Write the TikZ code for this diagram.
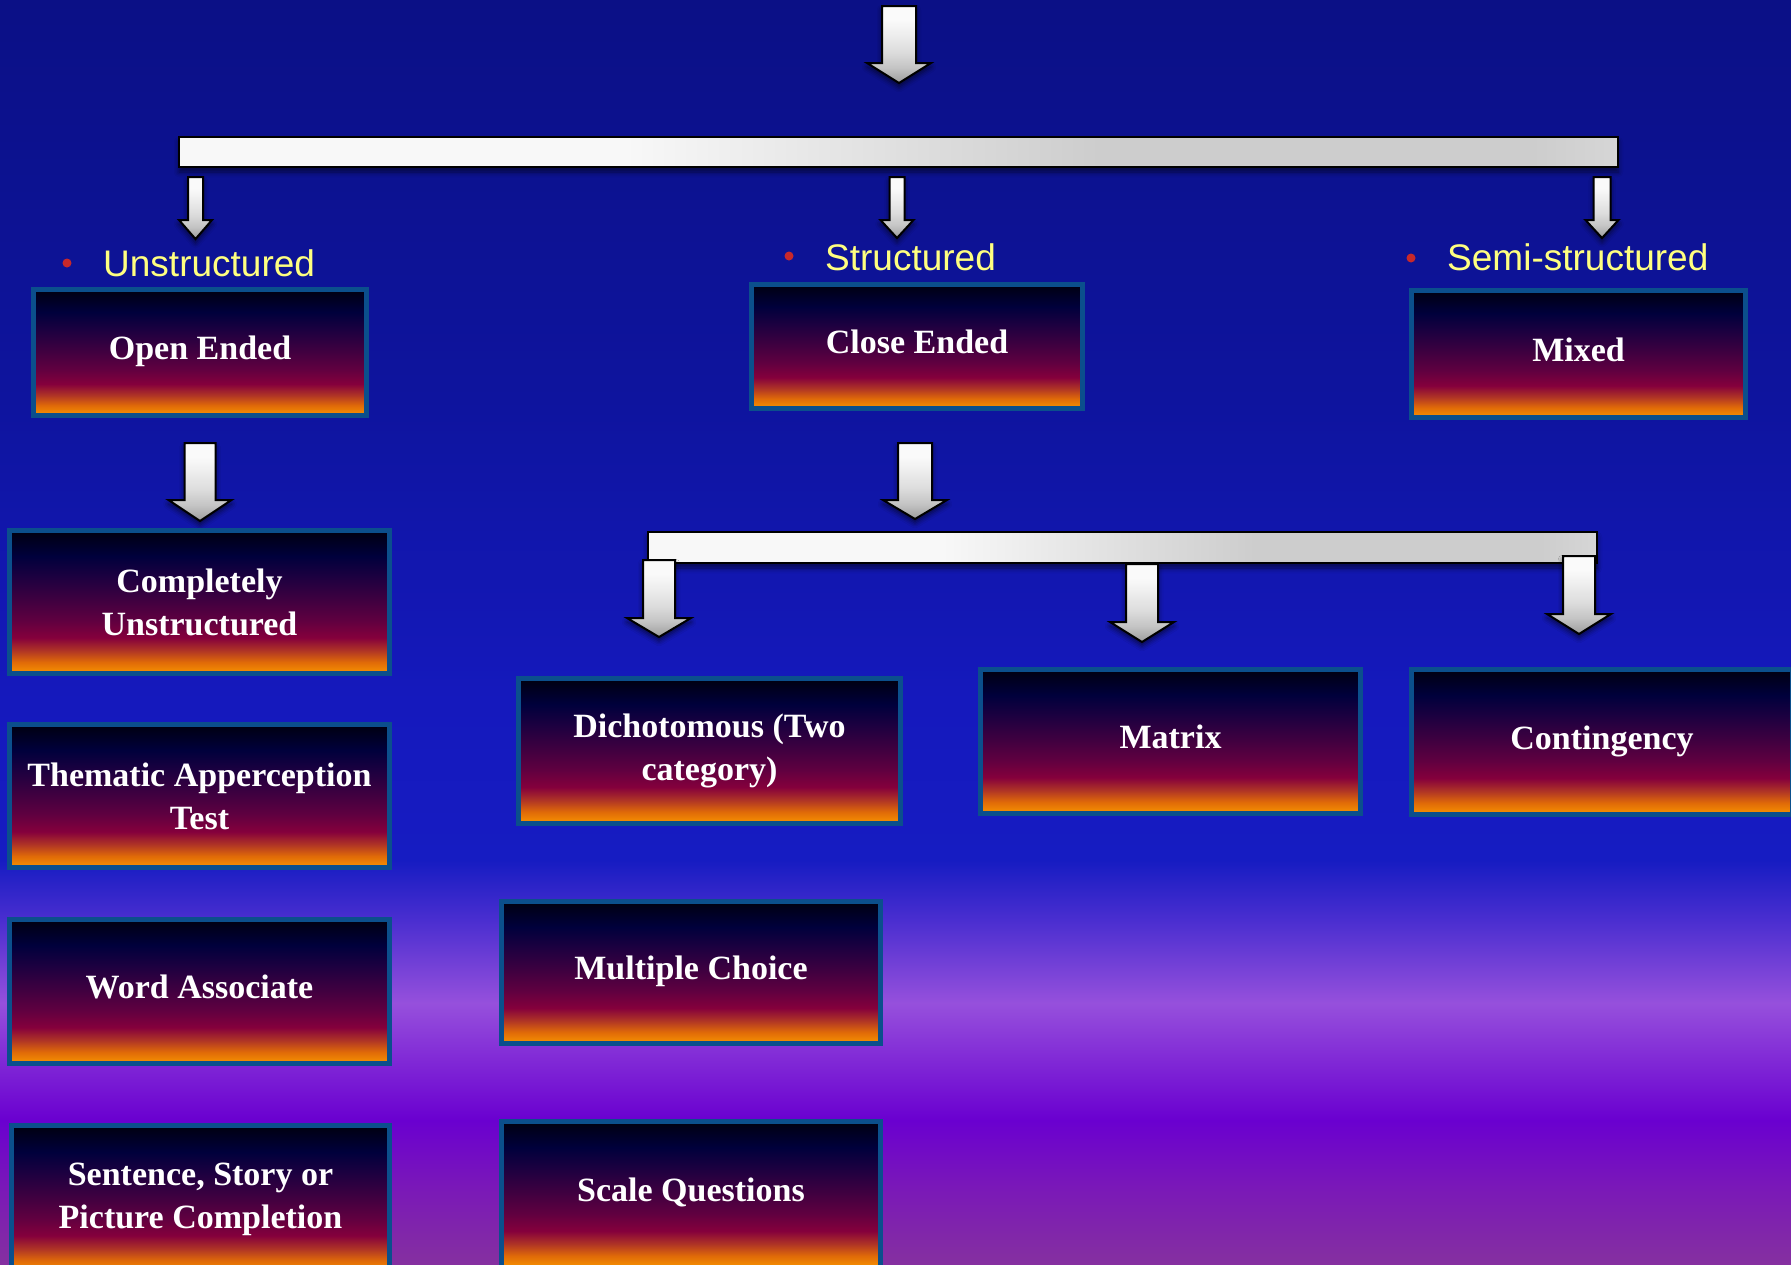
\documentclass[tikz,border=0pt]{standalone}
\usepackage{fontspec}
\setmainfont{Liberation Serif}
\newfontfamily\lblfont{Liberation Sans}
\usetikzlibrary{shadows.blur}

\definecolor{bg1}{HTML}{0B1086}
\definecolor{bg2}{HTML}{0E149E}
\definecolor{bg3}{HTML}{1519BD}
\definecolor{bg4}{HTML}{161CC2}
\definecolor{bg5}{HTML}{4A2ED0}
\definecolor{bg6}{HTML}{9650DC}
\definecolor{bg7}{HTML}{6A00D0}
\definecolor{bg8}{HTML}{7A18B8}
\definecolor{bg9}{HTML}{8530A0}

\definecolor{bx1}{HTML}{000010}
\definecolor{bx2}{HTML}{00003C}
\definecolor{bx3}{HTML}{1C0040}
\definecolor{bx4}{HTML}{400040}
\definecolor{bx5}{HTML}{600040}
\definecolor{bx6}{HTML}{85003C}
\definecolor{bx7}{HTML}{B03525}
\definecolor{bx8}{HTML}{E06A08}
\definecolor{bx9}{HTML}{F89400}
\definecolor{boxbd}{HTML}{0B4F8C}

\definecolor{ar1}{HTML}{FAFAFA}
\definecolor{ar2}{HTML}{EEEEEE}
\definecolor{ar3}{HTML}{DCDCDC}
\definecolor{ar4}{HTML}{C4C4C4}
\definecolor{ar5}{HTML}{9C9C9C}

\definecolor{barW}{HTML}{F8F8F8}
\definecolor{barG}{HTML}{CDCDCD}
\definecolor{barG2}{HTML}{D6D6D6}

\definecolor{lblyellow}{HTML}{FFFF80}
\definecolor{bulletred}{HTML}{C8282A}

\pgfdeclareverticalshading{bggrad}{100bp}{color(0bp)=(bg9); color(25bp)=(bg9); color(28.05bp)=(bg8); color(30.7bp)=(bg7); color(35.32bp)=(bg6); color(38.61bp)=(bg5); color(40.98bp)=(bg4); color(47.31bp)=(bg3); color(59.18bp)=(bg2); color(75bp)=(bg1); color(100bp)=(bg1)}
\pgfdeclareverticalshading{bxgrad}{100bp}{color(0bp)=(bx9); color(25bp)=(bx9); color(29bp)=(bx8); color(33bp)=(bx7); color(37.5bp)=(bx6); color(43.5bp)=(bx5); color(50.5bp)=(bx4); color(59bp)=(bx3); color(66bp)=(bx2); color(75bp)=(bx1); color(100bp)=(bx1)}
\pgfdeclareverticalshading{argrad}{100bp}{color(0bp)=(ar5); color(25bp)=(ar5); color(35bp)=(ar4); color(45bp)=(ar3); color(57bp)=(ar2); color(66bp)=(ar1); color(100bp)=(ar1)}
\pgfdeclarehorizontalshading{bargrad}{100bp}{color(0bp)=(barW); color(25bp)=(barW); color(40.5bp)=(barW); color(57bp)=(barG); color(72bp)=(barG); color(75bp)=(barG2); color(100bp)=(barG2)}

\tikzset{
  boxst/.style={draw=boxbd, line width=5pt, shade, shading=bxgrad, text=white,
    font=\fontsize{34}{43}\selectfont\bfseries, align=center, inner sep=0pt},
  oneline/.style={text height=23pt, text depth=9pt},
  barst/.style={draw=black, line width=2.5pt, shade, shading=bargrad, inner sep=0pt,
    blur shadow={shadow xshift=0pt, shadow yshift=-5pt, shadow blur radius=5pt, shadow opacity=55}},
  arrowst/.style={draw=black, line width=2pt, line join=miter, shade, shading=argrad,
    blur shadow={shadow xshift=0pt, shadow yshift=-4pt, shadow blur radius=5pt, shadow opacity=60}},
  lblst/.style={anchor=base west, inner sep=0pt, text=lblyellow, font=\lblfont\fontsize{37}{44}\selectfont},
  bulletst/.style={circle, fill=bulletred, inner sep=0pt, minimum size=9pt}
}

% name, x, ytop, yhead, ytip, half shaft, half head
\newcommand\blockarrow[7]{%
  \path[arrowst] (#2-#6,#3) -- (#2+#6,#3) -- (#2+#6,#4) -- (#2+#7,#4) -- (#2,#5)
    -- (#2-#7,#4) -- (#2-#6,#4) -- cycle;
  \coordinate (#1) at (#2,#5);}

\begin{document}
\begin{tikzpicture}[x=1pt, y=-1pt]
\useasboundingbox (0,0) rectangle (1791,1264);
\clip (0,0) rectangle (1791,1264);
\shade[shading=bggrad] (0,0) rectangle (1791,1264);

% bars
\node[barst, minimum width=1439pt, minimum height=30pt] (bar1) at (898.5,152) {};
\node[barst, minimum width=949pt, minimum height=31pt] (bar2) at (1122.5,547.5) {};

% arrows
\blockarrow{a0}{899}{6}{63}{83}{17}{32}
\blockarrow{a1}{195.5}{177}{220}{239}{7.5}{16.5}
\blockarrow{a2}{897}{177}{220}{238}{7.5}{16.5}
\blockarrow{a3}{1602}{177}{220}{238}{8.5}{16.5}
\blockarrow{a4}{200}{443}{500}{521}{15.5}{31.5}
\blockarrow{a5}{915}{443}{500}{519}{17}{32}
\blockarrow{a6}{659}{560}{618}{637}{16}{32}
\blockarrow{a7}{1142}{564}{622}{642}{16}{32}
\blockarrow{a8}{1579}{556}{614}{634}{16}{32}

% boxes
\node[boxst, oneline, minimum width=333pt, minimum height=126pt] (oe) at (200,352.5) {Open Ended};
\node[boxst, oneline, minimum width=331pt, minimum height=124pt] (ce) at (917,346.5) {Close Ended};
\node[boxst, oneline, minimum width=334pt, minimum height=127pt] (mx) at (1578.5,354) {Mixed};
\node[boxst, minimum width=380pt, minimum height=143pt] (cu) at (199.5,602) {Completely\\Unstructured};
\node[boxst, minimum width=380pt, minimum height=143pt] (ta) at (199.5,796) {Thematic Apperception\\Test};
\node[boxst, oneline, minimum width=380pt, minimum height=144pt] (wa) at (199.5,991.5) {Word Associate};
\node[boxst, minimum width=378pt, minimum height=147pt] (ss) at (200.5,1199) {Sentence, Story or\\Picture Completion};
\node[boxst, minimum width=382pt, minimum height=145pt] (di) at (709.5,751) {Dichotomous (Two\\category)};
\node[boxst, oneline, minimum width=379pt, minimum height=142pt] (mc) at (691,972.5) {Multiple Choice};
\node[boxst, oneline, minimum width=379pt, minimum height=146pt] (sq) at (691,1194.5) {Scale Questions};
\node[boxst, oneline, minimum width=380pt, minimum height=144pt] (ma) at (1170.5,741.5) {Matrix};
\node[boxst, oneline, minimum width=381pt, minimum height=145pt] (co) at (1602,742) {Contingency};

% labels
\node[bulletst] (b1) at (67,263) {};
\node[lblst] (l1) at (103,276) {Unstructured};
\node[bulletst] (b2) at (789,256) {};
\node[lblst] (l2) at (825,270) {Structured};
\node[bulletst] (b3) at (1411,258) {};
\node[lblst] (l3) at (1447,270) {Semi-structured};
\end{tikzpicture}
\end{document}
